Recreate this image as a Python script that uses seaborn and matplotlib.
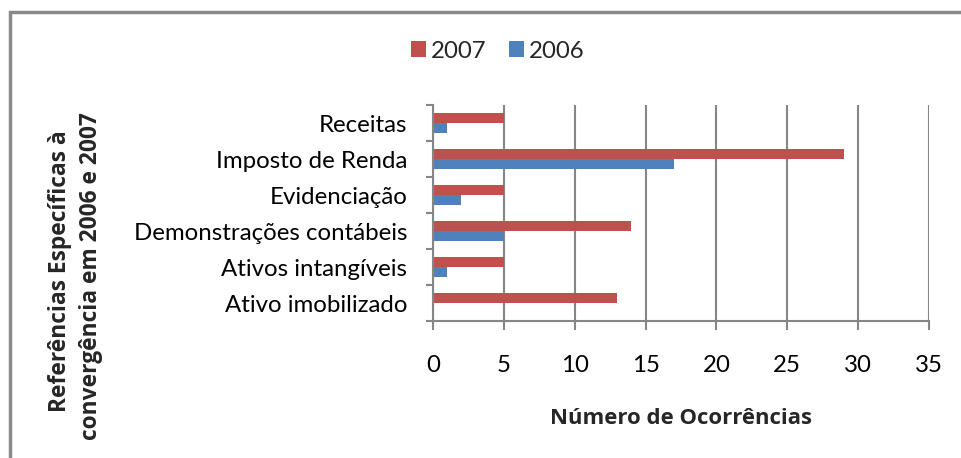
import matplotlib
matplotlib.use("Agg")
import matplotlib.pyplot as plt
import seaborn as sns
import pandas as pd
from matplotlib.patches import Rectangle, Patch

categories = ["Receitas", "Imposto de Renda", "Evidenciação",
              "Demonstrações contábeis", "Ativos intangíveis", "Ativo imobilizado"]
values_2007 = [5, 29, 5, 14, 5, 13]
values_2006 = [1, 17, 2, 5, 1, 0]
series = ["2007", "2006"]
x_ticks = [0, 5, 10, 15, 20, 25, 30, 35]
colors = ["#C0504D", "#4F81BD"]

sns.set_theme(style="white")
plt.rcParams["font.family"] = ["Lato", "DejaVu Sans"]

df = pd.DataFrame({
    "categoria": categories * 2,
    "valor": values_2007 + values_2006,
    "ano": [series[0]] * len(categories) + [series[1]] * len(categories),
})

W, H = 961, 458
FS = 17.3
fig = plt.figure(figsize=(W / 100, H / 100), dpi=100)
ax = fig.add_axes([433 / W, 1 - 321 / H, 496 / W, 216 / H])

sns.barplot(data=df, y="categoria", x="valor", hue="ano", hue_order=series,
            order=categories, palette=colors, orient="h", width=0.56,
            saturation=1, legend=False, edgecolor="none", ax=ax)

grid_c = "#868686"
ax.set_xlim(x_ticks[0], x_ticks[-1])
ax.set_ylim(len(categories) - 0.5, -0.5)
ax.set_xticks(x_ticks)
ax.set_xticklabels([str(t) for t in x_ticks])
ax.xaxis.grid(True, color=grid_c, linewidth=1.5)
ax.set_axisbelow(True)
ax.set_xlabel("")
ax.set_ylabel("")

for s in ["top", "right"]:
    ax.spines[s].set_visible(False)
for s in ["left", "bottom"]:
    ax.spines[s].set_color(grid_c)
    ax.spines[s].set_linewidth(1.5)

ax.tick_params(axis="x", which="major", direction="out", length=6.5, width=1.5,
               color=grid_c, pad=18, labelsize=FS, labelcolor="black", bottom=True)
ax.set_yticks([i - 0.5 for i in range(len(categories) + 1)], minor=True)
ax.tick_params(axis="y", which="minor", direction="out", length=5, width=1.5,
               color=grid_c, left=True)
ax.tick_params(axis="y", which="major", length=0, pad=18.5, labelsize=FS,
               labelcolor="black")

# legend
handles = [Patch(facecolor=c, edgecolor="none", label=l) for c, l in zip(colors, series)]
fig.legend(handles=handles, loc="center", bbox_to_anchor=(498 / W, 1 - 51 / H),
           ncol=2, frameon=False, fontsize=FS, handlelength=0.62, handleheight=0.62,
           handletextpad=0.2, columnspacing=0.95, borderpad=0)

# axis titles
bold = dict(family=["Open Sans", "DejaVu Sans"], fontweight="bold")
fig.text(681 / W, 1 - 418 / H, "Número de Ocorrências", ha="center", va="center",
         fontsize=15.9, **bold)
fig.text(60 / W, 1 - 271 / H, "Referências Específicas à", ha="center", va="center",
         rotation=90, fontsize=16.4, **bold)
fig.text(91 / W, 1 - 276 / H, "convergência em 2006 e 2007", ha="center", va="center",
         rotation=90, fontsize=16.4, **bold)

# chart border
fig.patches.append(Rectangle((10 / W, -0.1), 1.2, 1 - 12 / H + 0.1,
                             transform=fig.transFigure, fill=False,
                             edgecolor="#898989", linewidth=2.5, clip_on=False))

fig.savefig("out.png", dpi=100)
